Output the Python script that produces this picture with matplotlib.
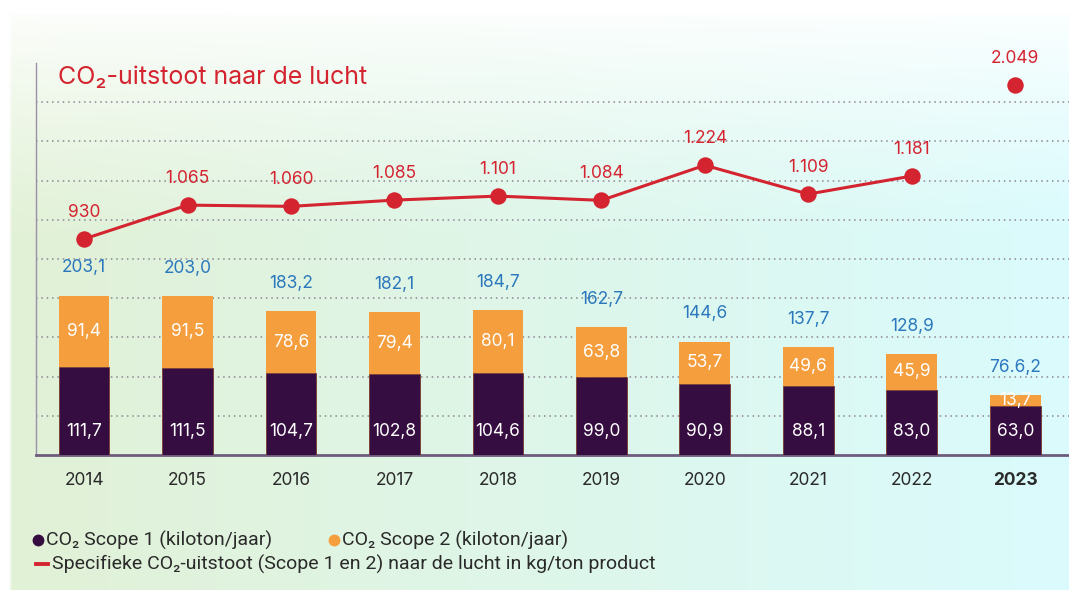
import numpy as np
import matplotlib
matplotlib.use("Agg")
import matplotlib.pyplot as plt
from matplotlib.lines import Line2D

# ---- data ----
years = ["2014", "2015", "2016", "2017", "2018", "2019", "2020", "2021", "2022", "2023"]
scope1 = [111.7, 111.5, 104.7, 102.8, 104.6, 99.0, 90.9, 88.1, 83.0, 63.0]
scope2 = [91.4, 91.5, 78.6, 79.4, 80.1, 63.8, 53.7, 49.6, 45.9, 13.7]
totals_lbl = ["203,1", "203,0", "183,2", "182,1", "184,7", "162,7", "144,6", "137,7", "128,9", "76.6,2"]
scope1_lbl = ["111,7", "111,5", "104,7", "102,8", "104,6", "99,0", "90,9", "88,1", "83,0", "63,0"]
scope2_lbl = ["91,4", "91,5", "78,6", "79,4", "80,1", "63,8", "53,7", "49,6", "45,9", "13,7"]
specific = [930, 1065, 1060, 1085, 1101, 1084, 1224, 1109, 1181, 2049]
specific_lbl = ["930", "1.065", "1.060", "1.085", "1.101", "1.084", "1.224", "1.109", "1.181", "2.049"]

PURPLE = "#360d40"
ORANGE = "#f59e3e"
RED = "#d42430"
BLUE = "#2b78bd"
DARK = "#2a2a2a"

FONT = ["Inter", "DejaVu Sans"]
plt.rcParams["font.family"] = FONT

W, H = 1069, 590
fig = plt.figure(figsize=(W / 100, H / 100), dpi=100)

# ---- background gradient ----
bg = fig.add_axes([0, 0, 1, 1], zorder=-10)
ny, nx = 200, 300
xx = np.linspace(0, 1, nx)[None, :, None]
yy = np.linspace(0, 1, ny)[:, None, None]
green = np.array([226, 241, 214]) / 255
cyan = np.array([218, 251, 253]) / 255
base = green * (1 - xx) + cyan * xx
base = base * np.ones((ny, 1, 1))
white_a = np.clip(1 - yy / 0.4, 0, 1) ** 1.2 * 0.95
img = base * (1 - white_a) + white_a
px_x = np.linspace(0, W, nx)
px_y = np.linspace(0, H, ny)
img[:, px_x < 10, :] = 1
img[px_y < 14, :, :] = 1
bg.imshow(img, extent=[0, 1, 0, 1], aspect="auto", origin="upper", interpolation="bilinear")
bg.set_axis_off()

# ---- main axes ----
ax = fig.add_axes([36 / W, 1 - 455 / H, 1 - 36 / W, (455 - 63) / H])
ax.patch.set_alpha(0)
x = np.arange(len(years))
bw = 0.49
ax.bar(x, scope1, bw, color=PURPLE, edgecolor="#7a3a30", linewidth=0.6, zorder=3)
ax.bar(x, scope2, bw, bottom=scope1, color=ORANGE, linewidth=0, zorder=3)
ax.set_xlim(-0.465, 9.52)
ax.set_ylim(0, 500)
ax.set_yticks(np.arange(50, 500, 50))
ax.yaxis.grid(True, linestyle=(0, (1, 2.5)), color="#8d8494", linewidth=1.1, zorder=0)
ax.tick_params(axis="y", length=0, labelleft=False)
ax.tick_params(axis="x", length=0, pad=12)
ax.set_xticks(x)
ax.set_xticklabels(years, fontsize=12.5, color=DARK)
ax.get_xticklabels()[-1].set_fontweight("bold")
for s in ["top", "right"]:
    ax.spines[s].set_visible(False)
ax.spines["bottom"].set_color("#6e5b7e")
ax.spines["bottom"].set_linewidth(2)
ax.spines["left"].set_color("#9b90a8")
ax.spines["left"].set_linewidth(1)

for i in range(len(years)):
    tot = scope1[i] + scope2[i]
    ax.text(x[i], 30, scope1_lbl[i], ha="center", va="center", color="white", fontsize=12.5, zorder=5)
    ax.text(x[i], scope1[i] + scope2[i] / 2, scope2_lbl[i], ha="center", va="center", color="white",
            fontsize=12.5, zorder=5)
    ax.annotate(totals_lbl[i], (x[i], tot), xytext=(0, 20), textcoords="offset points",
                ha="center", va="center", color=BLUE, fontsize=12.5)

# ---- line on secondary axis ----
ax2 = ax.twinx()
ax2.set_ylim(68, 1632)
ax2.set_axis_off()
cap = 1544  # off-scale 2023 value is drawn near the top of the panel
disp = [min(v, cap) for v in specific]
ax2.plot(x[:9], disp[:9], color=RED, linewidth=2.2, zorder=4)
ax2.scatter(x, disp, s=140, color=RED, zorder=5, linewidths=0)
for i in range(len(years)):
    ax2.annotate(specific_lbl[i], (x[i], disp[i]), xytext=(0, 19), textcoords="offset points",
                 ha="center", va="center", color=RED, fontsize=12.5)

# ---- title ----
fig.text(58 / W, 1 - 77 / H, "CO₂-uitstoot naar de lucht", color=RED, fontsize=18,
         ha="left", va="center")

# ---- legend ----
LFONT = ["Roboto", "DejaVu Sans"]
LFS = 14
fig.add_artist(Line2D([38 / W], [1 - 540 / H], marker="o", markersize=7.5, color=PURPLE, linestyle="none"))
fig.text(46 / W, 1 - 540 / H, "CO₂ Scope 1 (kiloton/jaar)", fontsize=LFS, color=DARK, va="center", family=LFONT)
fig.add_artist(Line2D([334 / W], [1 - 540 / H], marker="o", markersize=7.5, color=ORANGE, linestyle="none"))
fig.text(342 / W, 1 - 540 / H, "CO₂ Scope 2 (kiloton/jaar)", fontsize=LFS, color=DARK, va="center", family=LFONT)
fig.add_artist(Line2D([36 / W, 48 / W], [1 - 564 / H] * 2, color=RED, linewidth=2.8))
fig.text(52 / W, 1 - 564 / H, "Specifieke CO₂-uitstoot (Scope 1 en 2) naar de lucht in kg/ton product",
         fontsize=LFS, color=DARK, va="center", family=LFONT)

fig.savefig("out.png", dpi=100)
